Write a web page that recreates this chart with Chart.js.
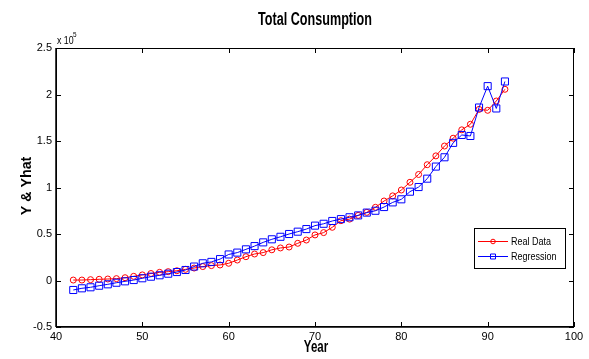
<!DOCTYPE html>
<html>
<head>
<meta charset="utf-8">
<style>
  html, body { margin: 0; padding: 0; background: #fff; }
  #wrap { width: 589px; height: 359px; }
</style>
</head>
<body>
<div id="wrap"><canvas id="myChart" width="589" height="359"></canvas></div>
<script src="https://cdn.jsdelivr.net/npm/chart.js@4.4.1/dist/chart.umd.min.js"></script>
<script>
  // years 42..92
  const years = [42,43,44,45,46,47,48,49,50,51,52,53,54,55,56,57,58,59,60,61,62,63,64,65,66,67,68,69,70,71,72,73,74,75,76,77,78,79,80,81,82,83,84,85,86,87,88,89,90,91,92];
  // values in units of 1e5
  const realData = [0.005,0.005,0.009,0.013,0.016,0.02,0.03,0.045,0.06,0.075,0.088,0.095,0.105,0.12,0.134,0.15,0.16,0.167,0.185,0.22,0.256,0.285,0.30,0.33,0.35,0.36,0.40,0.435,0.49,0.515,0.572,0.643,0.66,0.70,0.733,0.787,0.855,0.91,0.973,1.056,1.14,1.245,1.34,1.446,1.53,1.62,1.68,1.84,1.83,1.93,2.056];
  const regression = [-0.102,-0.084,-0.073,-0.056,-0.041,-0.024,-0.009,0.005,0.024,0.041,0.056,0.073,0.091,0.113,0.15,0.185,0.20,0.23,0.28,0.30,0.335,0.37,0.41,0.443,0.47,0.50,0.525,0.553,0.59,0.61,0.64,0.66,0.68,0.70,0.73,0.75,0.79,0.84,0.873,0.955,1.005,1.095,1.225,1.325,1.48,1.565,1.554,1.86,2.09,1.85,2.14];
  const xTicks = [40,50,60,70,80,90,100];
  const yTicks = [-0.5,0,0.5,1,1.5,2,2.5];
  const SCALE = 100000;

  const FONT = "Arial, 'Liberation Sans', sans-serif";

  function pts(arr) {
    return years.map((yr, i) => ({ x: yr, y: arr[i] * SCALE }));
  }

  // squeeze text horizontally so it looks like the narrow matlab font
  function narrowText(c, text, x, y, sx, align) {
    const w = c.measureText(text).width * sx;
    let left = x;
    if (align === "center") left = x - w / 2;
    else if (align === "right") left = x - w;
    c.save();
    c.textAlign = "left";
    c.translate(left, y);
    c.scale(sx, 1);
    c.fillText(text, 0, 0);
    c.restore();
  }

  // matlab style box, inward ticks, extra texts and legend
  const matlabDecor = {
    id: "matlabDecor",
    afterDraw(chart) {
      const c = chart.ctx;
      const a = chart.chartArea;
      const xs = chart.scales.x, ys = chart.scales.y;
      c.save();
      c.strokeStyle = "#000";
      c.lineWidth = 1;
      c.strokeRect(a.left + 0.5, a.top + 0.5, a.right - a.left - 1, a.bottom - a.top - 1);
      c.lineWidth = 1.5;
      c.beginPath();
      c.moveTo(a.left, a.bottom); c.lineTo(a.right, a.bottom);
      c.moveTo(a.left, a.top); c.lineTo(a.left, a.bottom);
      c.stroke();
      c.lineWidth = 1;
      c.beginPath();
      xTicks.forEach(v => {
        const px = Math.round(xs.getPixelForValue(v)) + 0.5;
        c.moveTo(px, a.bottom); c.lineTo(px, a.bottom - 5);
        c.moveTo(px, a.top); c.lineTo(px, a.top + 5);
      });
      yTicks.forEach(v => {
        const py = Math.round(ys.getPixelForValue(v * SCALE)) + 0.5;
        c.moveTo(a.left, py); c.lineTo(a.left + 5, py);
        c.moveTo(a.right, py); c.lineTo(a.right - 5, py);
      });
      c.stroke();

      // title and axis titles
      c.fillStyle = "#000";
      c.textBaseline = "middle";
      c.font = "bold 18px " + FONT;
      narrowText(c, "Total Consumption", 315, 20, 0.7, "center");
      c.font = "bold 16px " + FONT;
      narrowText(c, "Year", 316, 348, 0.72, "center");
      c.save();
      c.translate(27, 186);
      c.rotate(-Math.PI / 2);
      c.font = "bold 15px " + FONT;
      narrowText(c, "Y & Yhat", 0, 0, 0.95, "center");
      c.restore();

      // exponent
      c.font = "11px " + FONT;
      narrowText(c, "x 10", 57, 41, 0.8, "left");
      c.font = "8px " + FONT;
      narrowText(c, "5", 73, 35, 0.8, "left");

      // legend
      const lx = 474, ly = 228, lw = 91, lh = 40;
      c.fillStyle = "#fff";
      c.fillRect(lx, ly, lw, lh);
      c.strokeStyle = "#000";
      c.lineWidth = 1;
      c.strokeRect(lx + 0.5, ly + 0.5, lw, lh);
      const items = [
        { label: chart.data.datasets[0].label, color: "#ff0000", style: "circle" },
        { label: chart.data.datasets[1].label, color: "#0000ff", style: "rect" }
      ];
      items.forEach((it, i) => {
        const y = ly + 13 + i * 15;
        c.strokeStyle = it.color;
        c.beginPath();
        c.moveTo(lx + 4, y + 0.5); c.lineTo(lx + 34, y + 0.5);
        c.stroke();
        c.beginPath();
        if (it.style === "circle") c.arc(lx + 19, y + 0.5, 2.3, 0, Math.PI * 2);
        else c.rect(lx + 16.5, y - 2, 5, 5);
        c.stroke();
        c.fillStyle = "#000";
        c.font = "11px " + FONT;
        narrowText(c, it.label, lx + 37, y + 1, 0.82, "left");
      });
      c.restore();
    }
  };

  const ctx = document.getElementById("myChart").getContext("2d");
  const myChart = new Chart(ctx, {
    type: "line",
    data: {
      datasets: [
        {
          label: "Real Data",
          data: pts(realData),
          borderColor: "#ff0000",
          backgroundColor: "rgba(0,0,0,0)",
          borderWidth: 1,
          pointStyle: "circle",
          pointRadius: 3,
          pointBorderWidth: 1,
          pointBorderColor: "#ff0000",
          pointBackgroundColor: "rgba(0,0,0,0)",
          tension: 0,
          order: 2
        },
        {
          label: "Regression",
          data: pts(regression),
          borderColor: "#0000ff",
          backgroundColor: "rgba(0,0,0,0)",
          borderWidth: 1,
          pointStyle: "rect",
          pointRadius: 5,
          pointBorderWidth: 1,
          pointBorderColor: "#0000ff",
          pointBackgroundColor: "rgba(0,0,0,0)",
          tension: 0,
          order: 1
        }
      ]
    },
    options: {
      responsive: false,
      animation: false,
      layout: { padding: { top: 48, right: 15, left: 0, bottom: 0 } },
      plugins: {
        legend: { display: false },
        title: { display: false },
        tooltip: { enabled: false }
      },
      scales: {
        x: {
          type: "linear",
          min: 40,
          max: 100,
          afterFit: function (scale) { scale.height = 32; },
          afterBuildTicks: function (scale) { scale.ticks = xTicks.map(v => ({ value: v })); },
          grid: { display: false, drawTicks: false },
          border: { display: false },
          ticks: {
            color: "#000",
            padding: 3,
            maxRotation: 0,
            font: { family: FONT, size: 11 },
            callback: function (value) { return value; }
          }
        },
        y: {
          type: "linear",
          min: -0.5 * SCALE,
          max: 2.5 * SCALE,
          afterFit: function (scale) { scale.width = 56; },
          afterBuildTicks: function (scale) { scale.ticks = yTicks.map(v => ({ value: v * SCALE })); },
          grid: { display: false, drawTicks: false },
          border: { display: false },
          ticks: {
            color: "#000",
            padding: 4,
            font: { family: FONT, size: 11 },
            callback: function (value) { return String(Math.round(value / SCALE * 10) / 10); }
          }
        }
      }
    },
    plugins: [matlabDecor]
  });
</script>
</body>
</html>
